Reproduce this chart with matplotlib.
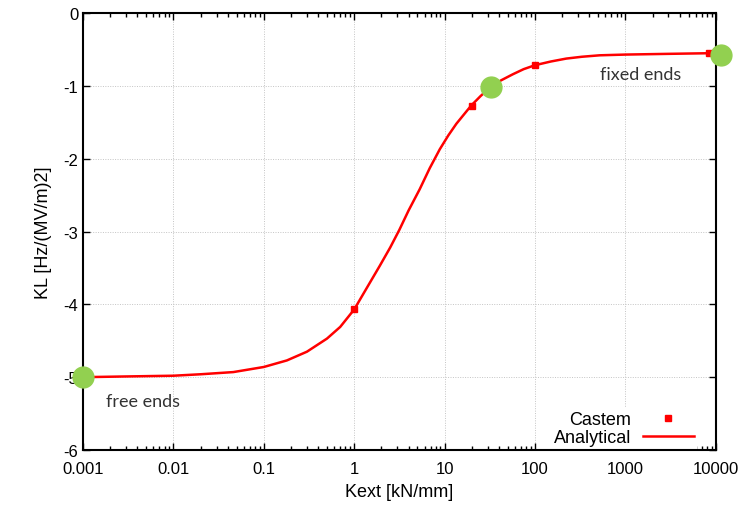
import matplotlib.pyplot as plt
from matplotlib.ticker import FixedLocator, FixedFormatter, LogLocator, NullFormatter

plt.rcParams['font.family'] = ['Liberation Sans', 'DejaVu Sans']
plt.rcParams['axes.unicode_minus'] = False

# analytical curve
kext = [0.001, 0.003, 0.01, 0.02, 0.046, 0.1, 0.18, 0.3, 0.5, 0.7, 1, 1.37, 1.92, 2.5,
        3.15, 4, 5.3, 6.85, 8.85, 11, 13.5, 19.7, 25, 32.7, 42, 57, 75, 100, 150, 222,
        330, 520, 1000, 3000, 10000]
kl = [-5.0, -4.99, -4.98, -4.96, -4.93, -4.86, -4.77, -4.65, -4.47, -4.31, -4.07, -3.78, -3.47, -3.22,
      -2.98, -2.71, -2.42, -2.13, -1.87, -1.68, -1.52, -1.27, -1.14, -1.01, -0.925, -0.84, -0.77, -0.716, -0.665, -0.625,
      -0.60, -0.58, -0.57, -0.56, -0.55]

# Castem points
castem_x = [1, 20, 100, 8500]
castem_y = [-4.07, -1.27, -0.716, -0.552]

# green highlighted points
green_x = [0.001, 32.7, 11500]
green_y = [-5.0, -1.01, -0.58]

xticks = [0.001, 0.01, 0.1, 1, 10, 100, 1000, 10000]
xticklabels = ['0.001', '0.01', '0.1', '1', '10', '100', '1000', '10000']
yticks = [-6, -5, -4, -3, -2, -1, 0]

fig = plt.figure(figsize=(7.55, 5.06), dpi=100)
ax = fig.add_axes([0.110, 0.1087, 0.838, 0.8635])

ax.plot(castem_x, castem_y, 's', color='#ff0000', markersize=4.5, label='Castem', zorder=3)
ax.plot(kext, kl, '-', color='#ff0000', linewidth=1.8, label='Analytical', zorder=2)
ax.plot(green_x, green_y, 'o', color='#92d050', markersize=15, zorder=4, clip_on=False)

ax.set_xscale('log')
ax.set_xlim(0.001, 10000)
ax.set_ylim(-6, 0)
ax.xaxis.set_major_locator(FixedLocator(xticks))
ax.xaxis.set_major_formatter(FixedFormatter(xticklabels))
ax.xaxis.set_minor_locator(LogLocator(base=10, subs=range(2, 10), numticks=20))
ax.xaxis.set_minor_formatter(NullFormatter())
ax.set_yticks(yticks)

ax.tick_params(which='both', direction='in', top=True, right=True, labelsize=12, colors='black')
ax.tick_params(which='major', length=5, width=1)
ax.tick_params(which='minor', length=3, width=1)
ax.tick_params(axis='x', pad=8)
for s in ax.spines.values():
    s.set_linewidth(1.5)

ax.grid(True, which='major', linestyle=(0, (1, 1.5)), color='#c4c4c4', linewidth=0.7)

ax.set_xlabel('Kext [kN/mm]', fontsize=13, labelpad=5)
ax.set_ylabel('KL [Hz/(MV/m)2]', fontsize=13, labelpad=8)

ax.text(0.0046, -5.33, 'free ends', fontsize=13, family='Lato', color='#333333',
        ha='center', va='center')
ax.text(1480, -0.84, 'fixed ends', fontsize=13, family='Lato', color='#333333',
        ha='center', va='center')

leg = ax.legend(loc='lower right', markerfirst=False, frameon=True, fancybox=False,
                fontsize=13, handlelength=2.8, borderpad=0.2, labelspacing=0.05,
                handletextpad=0.65, bbox_to_anchor=(0.985, -0.02))
leg.get_frame().set_edgecolor('none')
leg.get_frame().set_facecolor('white')
leg.get_frame().set_alpha(1)
leg.set_zorder(2.4)  # keep the box under the axis frame

fig.savefig('out.png', dpi=100)
